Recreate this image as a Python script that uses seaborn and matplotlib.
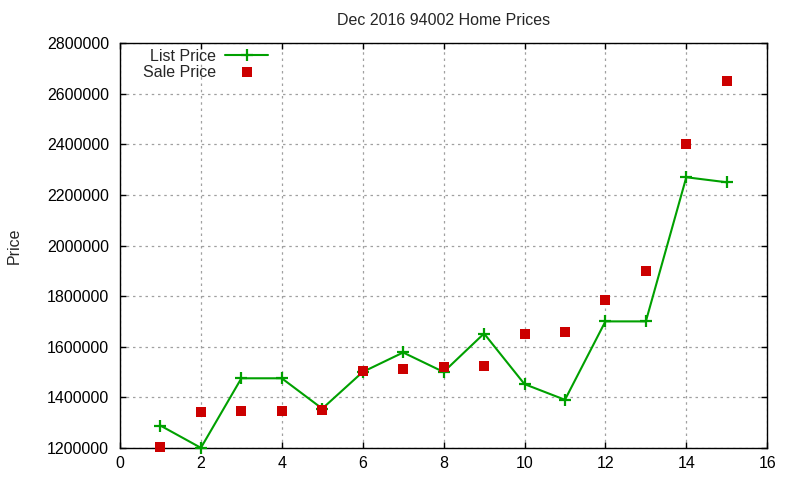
import matplotlib
matplotlib.use("Agg")
import matplotlib.pyplot as plt
import matplotlib.ticker as mticker
import seaborn as sns
import pandas as pd

# Dec 2016, 94002
homes = [1, 2, 3, 4, 5, 6, 7, 8, 9, 10, 11, 12, 13, 14, 15]
list_price = [1288000, 1200000, 1475000, 1475000, 1355000, 1500000, 1577000, 1500000,
              1652000, 1452000, 1390000, 1700000, 1700000, 2270000, 2250000]
sale_price = [1205000, 1340000, 1346000, 1346000, 1351000, 1502000, 1510000, 1518000,
              1522000, 1652000, 1660000, 1785000, 1900000, 2400000, 2652000]

df = pd.DataFrame({"home": homes, "list": list_price, "sale": sale_price})

sns.set_style("ticks")
plt.rcParams["font.family"] = ["Liberation Sans", "DejaVu Sans"]
plt.rcParams["font.size"] = 11.5

fig, ax = plt.subplots(figsize=(8, 4.8), dpi=100)
fig.subplots_adjust(left=0.15, right=0.959, top=0.910, bottom=0.067)

sns.lineplot(data=df, x="home", y="list", ax=ax, color="#00a000", linewidth=1.5,
             marker="+", markersize=8, markeredgewidth=1.6, markeredgecolor="#00a000",
             label="List Price", clip_on=False, zorder=3)
sns.scatterplot(data=df, x="home", y="sale", ax=ax, color="#cc0000", marker="s",
                s=42, linewidth=0, label="Sale Price", clip_on=False, zorder=4)

ax.set_xlim(0, 16)
ax.set_ylim(1200000, 2800000)
ax.set_xticks(range(0, 17, 2))
ax.set_yticks(range(1200000, 2800001, 200000))
ax.yaxis.set_major_formatter(mticker.FuncFormatter(lambda v, p: f"{int(v)}"))

ax.grid(True, color="#a0a0a0", linestyle=(0, (2, 3)), linewidth=0.9)
ax.tick_params(direction="in", top=True, right=True, length=4, width=1, labelsize=11.5,
               colors="black")
ax.tick_params(axis="x", pad=6)
ax.tick_params(axis="y", pad=8)
for sp in ax.spines.values():
    sp.set_color("black")
    sp.set_linewidth(1.0)

ax.set_title("Dec 2016 94002 Home Prices", fontsize=11.5, pad=13)
ax.set_xlabel("")
ax.set_ylabel("Price", fontsize=11.5)
ax.yaxis.set_label_coords(-0.152, 0.5)

leg = ax.legend(loc="upper left", bbox_to_anchor=(0.02, 1.01), frameon=False,
                markerfirst=False, handlelength=2.7, handletextpad=0.6,
                labelspacing=0.05, borderaxespad=0.2, fontsize=11.5)
for t in leg.get_texts():
    t.set_ha("right")

fig.savefig("out.png", dpi=100)
